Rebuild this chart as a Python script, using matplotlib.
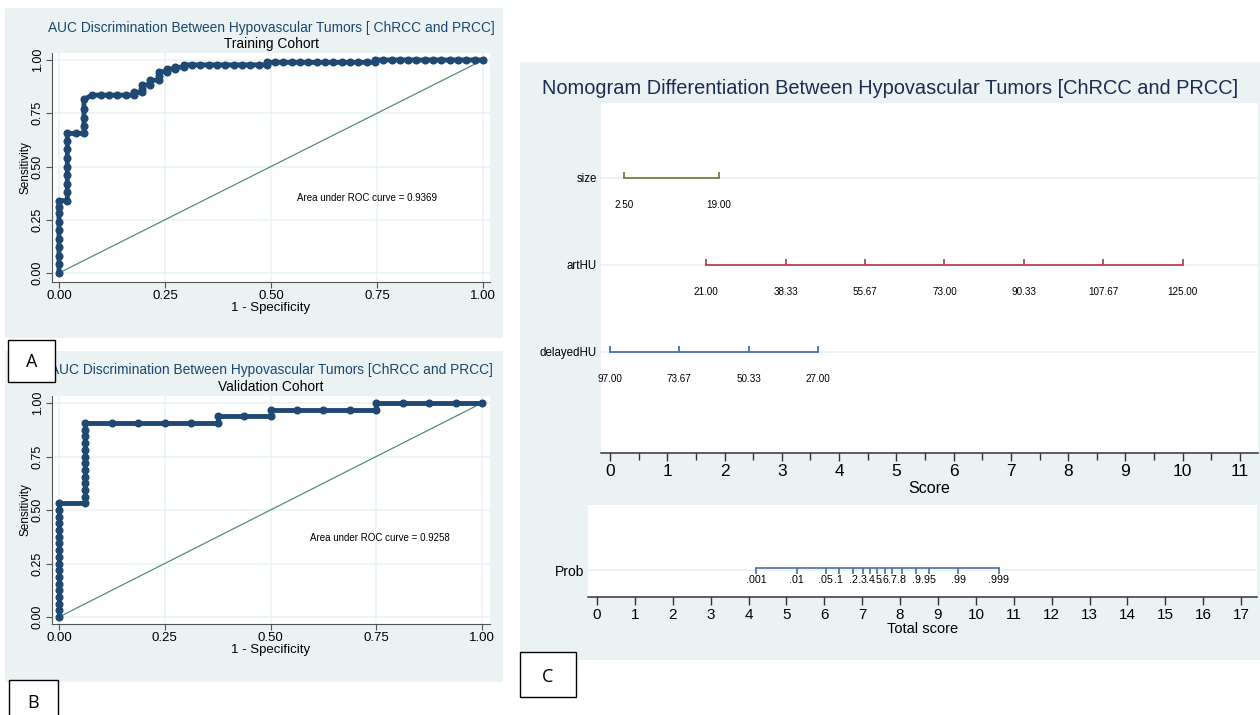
import numpy as np
import matplotlib.pyplot as plt
from matplotlib.patches import Rectangle

# ---- ROC data (training cohort): false-positive counts out of 51 negatives, sensitivity ----
train_n_neg = 51
train_fp = [0, 0, 0, 0, 0, 0, 0, 0, 0, 0,
            1, 1, 1, 1, 1, 1, 1, 1, 1,
            2,
            3, 3, 3, 3, 3,
            4, 5, 6, 7, 8, 9,
            9,
            10, 10, 10,
            11, 11,
            12, 12, 12,
            13, 13,
            14, 14,
            15, 15,
            16, 17, 18, 19, 20, 21, 22, 23, 24, 25,
            25,
            26, 27, 28, 29, 30, 31, 32, 33, 34, 35, 36, 37, 38,
            38,
            39, 40, 41, 42, 43, 44, 45, 46, 47, 48, 49, 50, 51]
train_tp = [0.00, 0.04, 0.08, 0.12, 0.16, 0.20, 0.24, 0.28, 0.31, 0.34,
            0.34, 0.38, 0.42, 0.46, 0.50, 0.54, 0.58, 0.62, 0.655,
            0.655,
            0.655, 0.69, 0.73, 0.77, 0.815,
            0.835, 0.835, 0.835, 0.835, 0.835, 0.835,
            0.848,
            0.848, 0.865, 0.883,
            0.883, 0.905,
            0.905, 0.925, 0.945,
            0.945, 0.958,
            0.958, 0.966,
            0.966, 0.977,
            0.977, 0.977, 0.977, 0.977, 0.977, 0.977, 0.977, 0.977, 0.977, 0.977,
            0.989,
            0.989, 0.989, 0.989, 0.989, 0.989, 0.989, 0.989, 0.989, 0.989, 0.989, 0.989, 0.989, 0.989,
            1.0,
            1.0, 1.0, 1.0, 1.0, 1.0, 1.0, 1.0, 1.0, 1.0, 1.0, 1.0, 1.0, 1.0]
train_auc = "Area under ROC curve = 0.9369"

# ---- ROC data (validation cohort): counts out of 16 negatives / 32 positives ----
val_n_neg = 16
val_n_pos = 32
val_fp = [0, 0, 0, 0, 0, 0, 0, 0, 0, 0, 0, 0, 0, 0, 0, 0, 0, 0,
          1, 1, 1, 1, 1, 1, 1, 1, 1, 1, 1, 1, 1,
          2, 3, 4, 5, 6,
          6, 7, 8,
          8, 9, 10, 11, 12,
          12, 13, 14, 15, 16]
val_tp = [0, 1, 2, 3, 4, 5, 6, 7, 8, 9, 10, 11, 12, 13, 14, 15, 16, 17,
          17, 18, 19, 20, 21, 22, 23, 24, 25, 26, 27, 28, 29,
          29, 29, 29, 29, 29,
          30, 30, 30,
          31, 31, 31, 31, 31,
          32, 32, 32, 32, 32]
val_auc = "Area under ROC curve = 0.9258"

# ---- nomogram data: variable values and their score positions ----
nomo_vars = ["size", "artHU", "delayedHU"]
size_values = [2.50, 19.00]
size_scores = [0.25, 1.90]
art_values = [21.00, 38.33, 55.67, 73.00, 90.33, 107.67, 125.00]
art_scores = [1.68, 3.07, 4.45, 5.84, 7.23, 8.61, 10.00]
delayed_values = [97.00, 73.67, 50.33, 27.00]
delayed_scores = [0.00, 1.21, 2.42, 3.63]

prob_labels = [".001", ".01", ".05", ".1", ".2", ".3", ".4", ".5", ".6", ".7",
               ".8", ".9", ".95", ".99", ".999"]
prob_scores = [4.20, 5.27, 6.04, 6.38, 6.76, 7.01, 7.21, 7.40, 7.59, 7.79,
               8.04, 8.42, 8.76, 9.53, 10.60]

# ---- layout helpers (pixel -> figure fraction) ----
W, H = 1260, 715
BG = "#eaf2f3"
NAVY = "#1f4872"
plt.rcParams["font.family"] = ["Liberation Sans", "DejaVu Sans"]

fig = plt.figure(figsize=(W / 100, H / 100), dpi=100)


def rect(l, t, r, b):
    return [l / W, 1 - b / H, (r - l) / W, (b - t) / H]


def fx(px):
    return px / W


def fy(py):
    return 1 - py / H


def background(l, t, r, b, color=BG, z=0, edge="none", lw=0):
    fig.add_artist(Rectangle((l / W, 1 - b / H), (r - l) / W, (b - t) / H,
                             transform=fig.transFigure, facecolor=color,
                             edgecolor=edge, linewidth=lw, zorder=z))


background(5, 8, 503, 338)
background(5, 351, 503, 682)
background(520, 62, 1260, 660)


def roc_panel(box, x0px, x1px, y0px, y1px, fpr, tpr, auc_text, auc_xy):
    l, t, r, b = box
    ax = fig.add_axes(rect(l, t, r, b))
    xs = (x1px - x0px)
    ys = (y0px - y1px)
    ax.set_xlim((l - x0px) / xs, (r - x0px) / xs)
    ax.set_ylim((y0px - b) / ys, (y0px - t) / ys)
    ax.plot([0, 1], [0, 1], color="#4f8f7a", lw=0.9, zorder=2)
    ax.plot(fpr, tpr, color=NAVY, lw=3.5, marker="o", ms=4.8, zorder=3)
    ticks = [0, 0.25, 0.5, 0.75, 1.0]
    ax.set_xticks(ticks, ["0.00", "0.25", "0.50", "0.75", "1.00"])
    ax.set_yticks(ticks, ["0.00", "0.25", "0.50", "0.75", "1.00"])
    ax.tick_params(axis="x", labelsize=9.5, length=4, width=0.8, color="#555555", pad=2)
    ax.tick_params(axis="y", labelsize=9, length=4, width=0.8, color="#555555", pad=2)
    for lab in ax.get_yticklabels():
        lab.set_rotation(90)
        lab.set_va("center")
    ax.grid(True, color=BG, lw=1.1, zorder=0)
    for s in ["top", "right"]:
        ax.spines[s].set_visible(False)
    for s in ["left", "bottom"]:
        ax.spines[s].set_color("#555555")
        ax.spines[s].set_linewidth(0.8)
    ax.set_xlabel("1 - Specificity", fontsize=9.5, labelpad=0)
    ax.set_ylabel("Sensitivity", fontsize=8.5, labelpad=0)
    ax.text(auc_xy[0], auc_xy[1], auc_text, fontsize=7, ha="left", va="center")
    return ax


# ---- panel A ----
train_fpr = np.array(train_fp) / train_n_neg
roc_panel((52, 53, 490, 282), 59, 483, 273, 60, train_fpr, train_tp,
          train_auc, (0.561, 0.352))
fig.text(fx(271), fy(28), "AUC Discrimination Between Hypovascular Tumors [ ChRCC and PRCC]",
         ha="center", va="center", fontsize=9.9, color="#1a476f", zorder=3)
fig.text(fx(271), fy(44), "Training Cohort", ha="center", va="center", fontsize=9.9, zorder=3)

# ---- panel B ----
val_fpr = np.array(val_fp) / val_n_neg
val_tpr = np.array(val_tp) / val_n_pos
roc_panel((52, 396, 490, 624), 59, 482, 617, 403, val_fpr, val_tpr,
          val_auc, (0.593, 0.369))
fig.text(fx(271), fy(370), "AUC Discrimination Between Hypovascular Tumors [ChRCC and PRCC]",
         ha="center", va="center", fontsize=9.9, color="#1a476f", zorder=3)
fig.text(fx(271), fy(387), "Validation Cohort", ha="center", va="center", fontsize=9.9, zorder=3)

# ---- panel C: nomogram ----
fig.text(fx(890), fy(89), "Nomogram Differentiation Between Hypovascular Tumors [ChRCC and PRCC]",
         ha="center", va="center", fontsize=14.4, color="#1c2d55")

ax = fig.add_axes(rect(601, 103, 1258, 453))
ax.set_xlim(-0.157, 11.315)
ax.set_ylim(-0.161, 3.862)
rows = [3, 2, 1]
specs = [(size_values, size_scores, "#6f8247"),
         (art_values, art_scores, "#b4474b"),
         (delayed_values, delayed_scores, "#4a6ea6")]
for row, (vals, scores, col) in zip(rows, specs):
    ax.axhline(row, color=BG, lw=1.3, zorder=1)
    ax.plot([scores[0], scores[-1]], [row, row], color=col, lw=1.3, zorder=3)
    ax.vlines(scores, row, row + 0.065, color=col, lw=1.3, zorder=3)
    for v, s in zip(vals, scores):
        ax.text(s, row - 0.315, f"{v:.2f}", ha="center", va="center", fontsize=7.1)
ax.set_yticks(rows, nomo_vars)
ax.tick_params(axis="y", length=0, pad=3, labelsize=8.3)
ax.set_xticks(range(12))
ax.set_xticks(np.arange(0.5, 11.5, 1.0), minor=True)
ax.tick_params(axis="x", which="major", length=6, width=1, color="#333333", labelsize=12.5, pad=2)
ax.tick_params(axis="x", which="minor", length=5, width=1, color="#333333")
for s in ["top", "right", "left"]:
    ax.spines[s].set_visible(False)
ax.spines["bottom"].set_color("#333333")
ax.spines["bottom"].set_linewidth(1.1)
ax.set_xlabel("Score", fontsize=11.5, labelpad=1)

# probability axis
ax2 = fig.add_axes(rect(588, 505, 1257, 597))
ax2.set_xlim(-0.238, 17.42)
ax2.set_ylim(0, 1)
ax2.axhline(0.293, color=BG, lw=1.3, zorder=1)
ax2.plot([prob_scores[0], prob_scores[-1]], [0.31, 0.31], color="#4e6d9c", lw=1.2, zorder=3)
ax2.vlines(prob_scores, 0.255, 0.31, color="#4e6d9c", lw=1.2, zorder=3)
for lab, s in zip(prob_labels, prob_scores):
    ax2.text(s, 0.18, lab, ha="center", va="center", fontsize=7.7)
ax2.set_yticks([0.293], ["Prob"])
ax2.tick_params(axis="y", length=0, pad=3, labelsize=10)
ax2.set_xticks(range(18))
ax2.tick_params(axis="x", length=6, width=1, color="#333333", labelsize=11, pad=2)
for s in ["top", "right", "left"]:
    ax2.spines[s].set_visible(False)
ax2.spines["bottom"].set_color("#333333")
ax2.spines["bottom"].set_linewidth(1.1)
ax2.set_xlabel("Total score", fontsize=10.5, labelpad=0)

# ---- panel letters ----
for (l, t, r, b), letter, cy in [((8, 340, 55, 382), "A", 362),
                                  ((9, 680, 58, 722), "B", 703),
                                  ((520, 652, 576, 697), "C", 677)]:
    background(l, t, r, b, color="white", z=5, edge="black", lw=1.0)
    fig.text(fx((l + r) / 2), fy(cy), letter, ha="center", va="center",
             fontsize=13, zorder=6, family=["Open Sans", "DejaVu Sans"])

fig.savefig("out.png", dpi=100)
